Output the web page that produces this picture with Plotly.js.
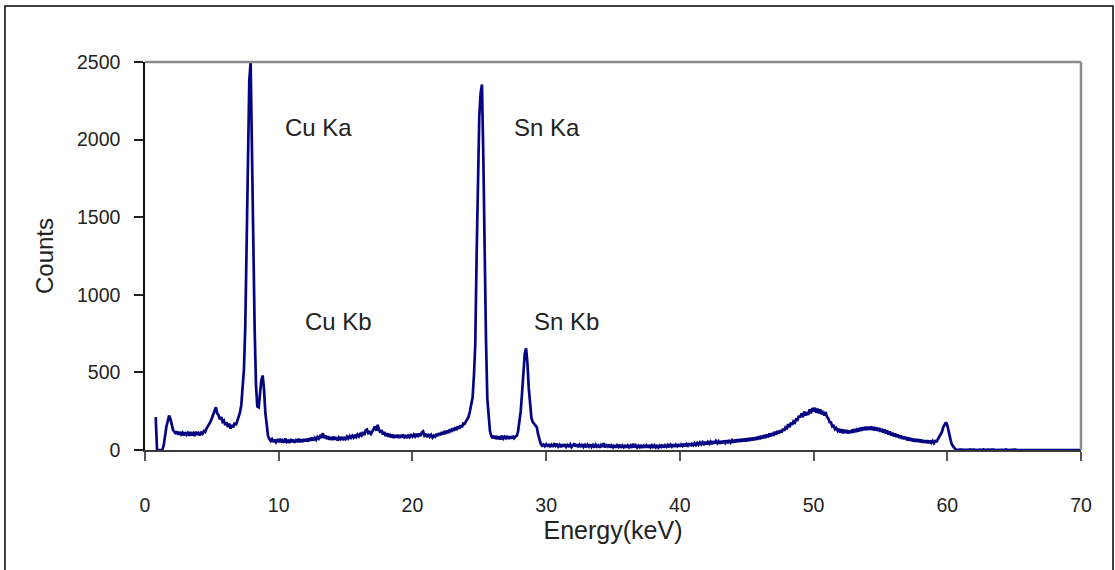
<!DOCTYPE html>
<html>
<head>
<meta charset="utf-8">
<script src="https://cdn.plot.ly/plotly-3.0.1.min.js"></script>
<style>
  html, body { margin: 0; padding: 0; background: #ffffff; }
  #chart { width: 1115px; height: 570px; }
</style>
</head>
<body>
<div id="chart"></div>
<script>
// XRF spectrum: counts per 0.1 keV channel, channel 0 = 0.0 keV.
// Each row holds one keV (x.0 ... x.9).
const ENERGY_START = 0.0;
const ENERGY_STEP = 0.1;

const counts = [
  null, null, null, null, null, null, null, null, 212, 0,          // 0
  0, 0, 0, 0, 30, 95, 150, 185, 222, 200,                         // 1
  160, 128, 118, 104, 120, 98, 116, 100, 112, 94,                 // 2
  114, 98, 110, 92, 116, 96, 108, 90, 118, 98,                    // 3
  110, 94, 112, 104, 122, 116, 138, 150, 164, 182,                // 4
  205, 228, 262, 275, 236, 224, 198, 214, 182, 190,               // 5
  160, 178, 148, 170, 138, 162, 146, 176, 160, 184,               // 6
  205, 240, 290, 380, 520, 800, 1380, 1950, 2380, 2500,           // 7
  2050, 1350, 780, 420, 280, 275, 360, 450, 480, 390,             // 8
  240, 150, 92, 70, 58, 70, 52, 66, 50, 64,                       // 9
  56, 72, 50, 62, 48, 74, 52, 60, 46, 70,                         // 10
  52, 66, 48, 64, 56, 72, 50, 68, 52, 70,                         // 11
  56, 72, 54, 76, 60, 80, 62, 78, 66, 84,                         // 12
  74, 90, 78, 108, 76, 94, 70, 88, 66, 84,                        // 13
  64, 86, 68, 82, 62, 80, 70, 84, 64, 78,                         // 14
  70, 86, 74, 90, 78, 92, 80, 98, 84, 100,                        // 15
  88, 104, 94, 116, 96, 126, 132, 108, 116, 104,                  // 16
  122, 140, 152, 124, 162, 130, 112, 128, 100, 116,               // 17
  90, 108, 86, 104, 80, 100, 78, 96, 80, 98,                      // 18
  78, 96, 80, 100, 82, 90, 78, 98, 84, 96,                        // 19
  86, 100, 88, 104, 84, 106, 90, 112, 120, 92,                    // 20
  98, 84, 102, 86, 98, 80, 92, 86, 104, 90,                       // 21
  110, 96, 116, 100, 122, 104, 126, 110, 134, 116,                // 22
  140, 124, 146, 128, 154, 136, 160, 146, 170, 168,               // 23
  185, 200, 215, 250, 300, 340, 480, 680, 1250, 1850,             // 24
  2150, 2300, 2355, 1900, 1250, 720, 330, 190, 120, 90,           // 25
  76, 92, 72, 90, 70, 88, 68, 92, 74, 86,                         // 26
  76, 90, 72, 88, 74, 90, 76, 86, 92, 120,                        // 27
  175, 250, 370, 510, 620, 655, 560, 400, 270, 205,               // 28
  180, 168, 160, 148, 100, 58, 40, 28, 36, 24,                    // 29
  36, 22, 38, 24, 34, 20, 36, 26, 40, 22,                         // 30
  34, 18, 36, 22, 38, 20, 32, 24, 36, 18,                         // 31
  34, 42, 22, 36, 18, 34, 24, 38, 20, 32,                         // 32
  18, 34, 22, 36, 20, 32, 16, 34, 22, 30,                         // 33
  16, 32, 20, 44, 18, 30, 22, 36, 16, 30,                         // 34
  18, 32, 16, 30, 20, 34, 14, 28, 18, 32,                         // 35
  16, 30, 18, 28, 14, 40, 18, 30, 16, 28,                         // 36
  18, 32, 14, 28, 20, 30, 16, 32, 18, 30,                         // 37
  14, 30, 18, 32, 16, 28, 20, 34, 16, 30,                         // 38
  20, 32, 18, 34, 22, 36, 20, 34, 24, 38,                         // 39
  22, 36, 26, 40, 24, 38, 28, 42, 26, 40,                         // 40
  30, 44, 32, 46, 34, 48, 36, 50, 38, 52,                         // 41
  36, 52, 40, 54, 38, 56, 42, 58, 44, 56,                         // 42
  40, 58, 44, 60, 46, 62, 44, 64, 48, 62,                         // 43
  48, 66, 50, 68, 52, 70, 54, 72, 56, 74,                         // 44
  56, 76, 58, 78, 62, 80, 64, 84, 66, 88,                         // 45
  70, 92, 74, 96, 78, 100, 82, 106, 88, 110,                      // 46
  92, 118, 98, 122, 106, 128, 112, 136, 124, 146,                 // 47
  140, 166, 146, 176, 162, 184, 176, 198, 194, 220,               // 48
  210, 236, 212, 248, 222, 244, 226, 262, 236, 270,               // 49
  248, 272, 240, 266, 236, 262, 230, 252, 222, 244,               // 50
  214, 204, 180, 178, 152, 156, 134, 142, 124, 136,               // 51
  112, 134, 108, 130, 110, 128, 106, 126, 110, 132,               // 52
  112, 136, 116, 140, 120, 144, 124, 146, 128, 150,               // 53
  128, 150, 130, 152, 128, 148, 126, 146, 122, 142,               // 54
  118, 138, 112, 132, 106, 126, 100, 120, 94, 112,                // 55
  88, 106, 84, 100, 78, 94, 72, 88, 70, 84,                       // 56
  62, 80, 60, 76, 56, 72, 54, 70, 52, 68,                         // 57
  50, 66, 48, 62, 46, 62, 44, 60, 46, 58,                         // 58
  44, 58, 54, 70, 76, 98, 116, 148, 166, 178,                     // 59
  160, 120, 75, 45, 28, 14, 6, 2, 0, 3,                           // 60
  0, 2, 1, 0, 3, 0, 1, 4, 0, 2,                                   // 61
  1, 0, 3, 0, 2, 1, 0, 4, 1, 0,                                   // 62
  2, 0, 1, 3, 0, 2, 0, 1, 0, 3,                                   // 63
  0, 1, 0, 2, 4, 0, 1, 0, 2, 0,                                   // 64
  1, 3, 0, 0, 2, 1, 0, 3, 0, 1,                                   // 65
  0, 2, 0, 1, 0, 3, 1, 0, 2, 0,                                   // 66
  2, 0, 1, 0, 3, 0, 0, 2, 1, 0,                                   // 67
  0, 1, 3, 0, 1, 0, 2, 0, 0, 1,                                   // 68
  2, 0, 0, 1, 0, 2, 0, 1, 0, 0,                                   // 69
  0                                                               // 70
];

// Peak labels and where they sit (keV, counts).
const peakNames = ['Cu Ka', 'Sn Ka', 'Cu Kb', 'Sn Kb'];
const peakLabelX = [12.95, 30.1, 14.45, 31.5];
const peakLabelY = [2075, 2075, 831, 831];

const xTickStep = 10;
const yTickStep = 500;

const FONT = 'Liberation Sans, Arial, Helvetica, sans-serif';
const TEXT = '#222222';

const trace = {
  type: 'scatter',
  mode: 'lines',
  x0: ENERGY_START,
  dx: ENERGY_STEP,
  y: counts,
  line: { color: '#050583', width: 2.7 },
  connectgaps: false,
  hoverinfo: 'x+y'
};

const annotations = peakNames.map((name, i) => ({
  x: peakLabelX[i], y: peakLabelY[i], xref: 'x', yref: 'y',
  text: name, showarrow: false,
  font: { family: FONT, size: 24, color: TEXT },
  xanchor: 'center', yanchor: 'middle'
}));

const layout = {
  width: 1115,
  height: 570,
  margin: { l: 145, r: 34, t: 62, b: 120 },
  paper_bgcolor: '#ffffff',
  plot_bgcolor: '#ffffff',
  showlegend: false,
  font: { family: FONT, color: TEXT },
  xaxis: {
    range: [0, 70],
    tickmode: 'linear', tick0: 0, dtick: xTickStep,
    ticks: 'outside', ticklen: 9, tickwidth: 1.5, tickcolor: '#555555',
    showline: true, linecolor: '#3a3a3a', linewidth: 1.5,
    showgrid: false, zeroline: false,
    tickfont: { family: FONT, size: 19.5, color: TEXT },
    ticklabelstandoff: 28,
    title: { text: 'Energy(keV)', font: { family: FONT, size: 25, color: TEXT }, standoff: 6 }
  },
  yaxis: {
    range: [0, 2500],
    tickmode: 'linear', tick0: 0, dtick: yTickStep,
    ticks: 'outside', ticklen: 9, tickwidth: 1.5, tickcolor: '#222222',
    showline: true, linecolor: '#111111', linewidth: 1.5,
    showgrid: false, zeroline: false,
    tickfont: { family: FONT, size: 19.5, color: TEXT },
    ticklabelstandoff: 10,
    title: { text: 'Counts', font: { family: FONT, size: 24, color: TEXT }, standoff: 17 }
  },
  shapes: [
    // grey frame on top and right of the plotting area
    { type: 'line', xref: 'paper', yref: 'paper', x0: 0, x1: 1, y0: 1, y1: 1,
      line: { color: '#8a8a8a', width: 2.5 } },
    { type: 'line', xref: 'paper', yref: 'paper', x0: 1, x1: 1, y0: 0, y1: 1,
      line: { color: '#8a8a8a', width: 2.5 } },
    // outer chart border
    { type: 'rect', xref: 'paper', yref: 'paper',
      x0: -0.1496, x1: 1.0342, y0: -0.33, y1: 1.1443,
      line: { color: '#000000', width: 1.5 }, fillcolor: 'rgba(0,0,0,0)', layer: 'below' }
  ],
  annotations: annotations
};

Plotly.newPlot('chart', [trace], layout, { displayModeBar: false, responsive: false });
</script>
</body>
</html>
